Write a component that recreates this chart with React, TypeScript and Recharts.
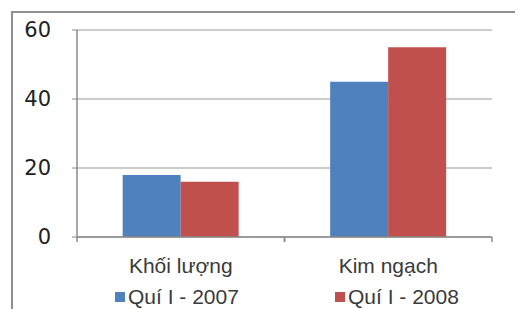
import React from 'react';
import { BarChart, Bar, XAxis, YAxis, CartesianGrid, Legend } from 'recharts';

const categories = ['Khối lượng', 'Kim ngạch'];
const series2007 = [18, 45];
const series2008 = [16, 55];
const yTicks = [0, 20, 40, 60];
const seriesNames = ['Quí I - 2007', 'Quí I - 2008'];
const seriesColors = ['#4F81BD', '#C0504D'];

const data = categories.map((c, i) => ({ name: c, q2007: series2007[i], q2008: series2008[i] }));

const W = 515;
const H = 301;
const MARGIN = { top: 22, right: 31, bottom: 0, left: 0 };
const YW = 69;
const PLOT_W = W - MARGIN.left - MARGIN.right - YW;
const BAND = PLOT_W / categories.length;

const XTick = (props: any) => {
  const { x, y, payload } = props;
  return (
    <g>
      <line x1={x - BAND / 2} y1={y - 8} x2={x - BAND / 2} y2={y - 3} stroke="#8a8a8a" strokeWidth={1.5} />
      <line x1={x + BAND / 2} y1={y - 8} x2={x + BAND / 2} y2={y - 3} stroke="#8a8a8a" strokeWidth={1.5} />
      <text x={x} y={y + 28} textAnchor="middle" fontFamily="'Liberation Sans', Arial, sans-serif" fontSize={21} fill="#3a3a3a">
        {payload.value}
      </text>
    </g>
  );
};

const LegendContent = () => (
  <div style={{ display: 'flex', height: 24, width: 460, paddingLeft: 107 }}>
    {seriesNames.map((n, i) => (
      <div key={n} style={{ width: 220, flexShrink: 0, display: 'flex', justifyContent: 'flex-start', alignItems: 'center', fontFamily: "'Liberation Sans', Arial, sans-serif", fontSize: 21, color: '#3a3a3a', lineHeight: '24px', whiteSpace: 'nowrap' }}>
        <span style={{ display: 'inline-block', width: 10, height: 10, background: seriesColors[i], marginRight: 3 }} />
        {n}
      </div>
    ))}
  </div>
);

export default function App() {
  return (
    <div style={{ position: 'relative', width: W, height: H, background: '#fff' }}>
      <div style={{ position: 'absolute', left: 3, top: 3, width: W, height: H, borderLeft: '2px solid #8f8f8f', borderTop: '2px solid #8f8f8f', boxSizing: 'border-box' }} />
      <BarChart width={W} height={H} data={data} margin={MARGIN} barCategoryGap="22%" barGap={0}>
        <CartesianGrid vertical={false} stroke="#9a9a9a" strokeWidth={1.2} />
        <XAxis dataKey="name" height={48} tickLine={false} axisLine={{ stroke: '#8a8a8a', strokeWidth: 1.5 }} tick={<XTick />} interval={0} />
        <YAxis width={YW} domain={[0, 60]} ticks={yTicks} tickSize={5} tickLine={{ stroke: '#8a8a8a' }} axisLine={{ stroke: '#8a8a8a', strokeWidth: 1.5 }} tick={{ fontFamily: "'DejaVu Sans', sans-serif", fontSize: 21, fill: '#222' }} tickMargin={21} />
        <Legend verticalAlign="bottom" content={<LegendContent />} wrapperStyle={{ bottom: 0, left: 0, height: 24, width: W }} />
        <Bar dataKey="q2007" name={seriesNames[0]} fill={seriesColors[0]} isAnimationActive={false} />
        <Bar dataKey="q2008" name={seriesNames[1]} fill={seriesColors[1]} isAnimationActive={false} />
      </BarChart>
    </div>
  );
}
